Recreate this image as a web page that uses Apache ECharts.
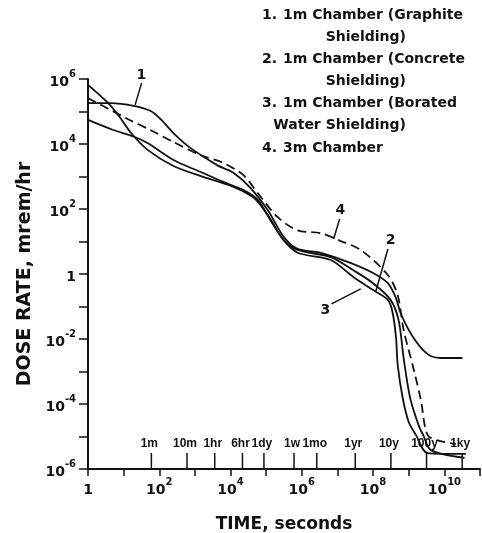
<!DOCTYPE html>
<html>
<head>
<meta charset="utf-8">
<script src="https://cdn.jsdelivr.net/npm/echarts@6/dist/echarts.min.js"></script>
<style>
  html, body { margin: 0; padding: 0; background: #fff; }
  #main { width: 482px; height: 533px; }
</style>
</head>
<body>
<div id="main"></div>
<script>
// curve 1: 1m chamber, graphite shielding
const graphiteTime = [1, 4.3, 19, 56, 107, 280, 740, 4300, 1.2e4, 3.6e4, 1.1e5, 3.1e5, 7.6e5, 3.4e6, 2.3e7, 1.0e8, 2.6e8, 4.3e8, 5.9e8, 9.3e8, 1.5e9, 2.5e9, 4.1e9, 7.8e9, 3.2e10]
const graphiteDose = [1.8e5, 1.8e5, 1.5e5, 1.05e5, 5.9e4, 1.9e4, 7.6e3, 2.2e3, 1.3e3, 450, 93, 14, 5.9, 4.5, 2.2, 1.07, 0.52, 0.19, 0.063, 0.022, 9.3e-3, 4.6e-3, 3.0e-3, 2.6e-3, 2.6e-3]
// curve 2: 1m chamber, concrete shielding
const concreteTime = [1, 3.7, 8.1, 15.5, 47, 250, 1400, 1.2e4, 4.5e4, 1.1e5, 3.1e5, 7.6e5, 6.5e6, 2.8e7, 1.0e8, 3.1e8, 5.2e8, 7.2e8, 1.1e9, 1.9e9, 2.6e9, 4.2e9, 3.7e10]
const concreteDose = [6.6e5, 1.8e5, 6.3e4, 2.3e4, 6.6e3, 2.1e3, 1.05e3, 480, 220, 66, 11, 5.5, 3.3, 1.3, 0.52, 0.16, 0.038, 2.6e-3, 1.5e-4, 2.2e-5, 1.05e-5, 3.8e-6, 2.2e-6]
// curve 3: 1m chamber, borated water shielding
const boratedTime = [1, 5.1, 19, 47, 250, 1400, 6300, 2.3e4, 5.8e4, 1.3e5, 3.1e5, 7.6e5, 6.5e6, 2.8e7, 1.0e8, 2.6e8, 3.5e8, 4.4e8, 4.9e8, 6.8e8, 1.0e9, 1.6e9, 3.4e9, 4.0e10]
const boratedDose = [5.5e4, 2.7e4, 1.7e4, 1.07e4, 3.2e3, 1.4e3, 680, 380, 190, 46, 11, 4.5, 2.7, 0.81, 0.32, 0.16, 0.068, 0.011, 1.6e-3, 1.5e-4, 2.8e-5, 1.1e-5, 3.1e-6, 2.9e-6]
// curve 4: 3m chamber
const bigTime = [1, 13, 56, 250, 1400, 6300, 2.3e4, 5.8e4, 2.1e5, 7.6e5, 3.4e6, 1.2e7, 4.5e7, 2.6e8, 4.9e8, 7.2e8, 1.4e9, 2.2e9, 3.4e9, 7.8e9, 2.1e10]
const bigDose = [2.6e5, 5.9e4, 2.7e4, 1.15e4, 4.6e3, 2.6e3, 1.1e3, 310, 56, 22, 18, 10.5, 5.5, 0.93, 0.22, 0.019, 1.1e-3, 1.3e-4, 1.1e-5, 7.2e-6, 5.9e-6]

// time markers along the bottom
const markerTimes = [60, 600, 3600, 21600, 86400, 604800, 2.63e6, 3.16e7, 3.16e8, 3.16e9, 3.16e10]
const markerLabels = ['1m', '10m', '1hr', '6hr', '1dy', '1w', '1mo', '1yr', '10y', '100y', '1ky']
const markerTop = 3.1e-6

// curve number callouts
const noteLabels = ['1', '2', '3', '4']
const noteTextAt = [[31.6, 1.3e6], [3.1e8, 11], [4.6e6, 0.078], [1.2e7, 93]]
const noteLineFrom = [[32, 7.6e5], [2.6e8, 5.9], [6.8e6, 0.12], [1.15e7, 49]]
const noteLineTo = [[21, 1.6e5], [1.2e8, 0.3], [4.5e7, 0.35], [7.8e6, 12]]

const legendLines = [
  ['1.', '1m Chamber (Graphite', 'Shielding)'],
  ['2.', '1m Chamber (Concrete', 'Shielding)'],
  ['3.', '1m Chamber (Borated', 'Water Shielding)'],
  ['4.', '3m Chamber', null],
]

const INK = '#111'
const FONT = '"DejaVu Sans", sans-serif'
const SANS = '"Liberation Sans", Arial, sans-serif'

function pairs(t, d) {
  return t.map((x, i) => [x, d[i]])
}

function powLabel(v) {
  const e = Math.round(Math.log10(v))
  if (e % 2 !== 0 || e > 10) return ''
  if (e === 0) return '{b|1}'
  return '{b|10}{sup|' + e + '}'
}

const labelRich = {
  b: { fontFamily: FONT, fontWeight: 'bold', fontSize: 14, color: INK, lineHeight: 20, verticalAlign: 'bottom' },
  sup: { fontFamily: FONT, fontWeight: 'bold', fontSize: 10, color: INK, lineHeight: 20, verticalAlign: 'top' },
}

function curve(name, t, d, dashed) {
  return {
    name: name,
    type: 'line',
    data: pairs(t, d),
    showSymbol: false,
    smooth: 0.3,
    silent: true,
    lineStyle: { color: INK, width: 1.8, type: dashed ? [9, 5] : 'solid' },
    z: 3,
  }
}

const graphics = []
legendLines.forEach((row, i) => {
  const y = 15 + i * 44.3
  graphics.push({ type: 'text', x: 262, y: y, style: { text: row[0], font: 'bold 14px ' + FONT, fill: INK, verticalAlign: 'middle' } })
  graphics.push({ type: 'text', x: 283, y: y, style: { text: row[1], font: 'bold 14px ' + FONT, fill: INK, verticalAlign: 'middle' } })
  if (row[2]) {
    graphics.push({ type: 'text', x: 406, y: y + 22, style: { text: row[2], font: 'bold 14px ' + FONT, fill: INK, align: 'right', verticalAlign: 'middle' } })
  }
})

const chart = echarts.init(document.getElementById('main'))
const option = {
  animation: false,
  backgroundColor: '#fff',
  grid: { left: 88, right: 2, top: 79, bottom: 64, containLabel: false, outerBoundsMode: 'none' },
  xAxis: {
    type: 'log',
    logBase: 10,
    min: 1,
    max: 1e11,
    interval: 1,
    name: 'TIME, seconds',
    nameLocation: 'middle',
    nameGap: 47,
    nameTextStyle: { fontFamily: FONT, fontWeight: 'bold', fontSize: 17, color: INK },
    axisLine: { lineStyle: { color: INK, width: 2 } },
    axisTick: { inside: false, length: 7, lineStyle: { color: INK, width: 1.5 } },
    axisLabel: { margin: 8, formatter: powLabel, rich: labelRich },
    splitLine: { show: false },
  },
  yAxis: {
    type: 'log',
    logBase: 10,
    min: 1e-6,
    max: 1e6,
    interval: 1,
    name: 'DOSE RATE, mrem/hr',
    nameLocation: 'middle',
    nameGap: 44,
    nameRotate: 90,
    nameTextStyle: { fontFamily: FONT, fontWeight: 'bold', fontSize: 19, color: INK },
    axisLine: { lineStyle: { color: INK, width: 2 } },
    axisTick: { inside: false, length: 9, lineStyle: { color: INK, width: 1.5 } },
    axisLabel: { margin: 12, formatter: powLabel, rich: labelRich },
    splitLine: { show: false },
  },
  graphic: graphics,
  series: [
    curve('1m Chamber (Graphite Shielding)', graphiteTime, graphiteDose, false),
    curve('1m Chamber (Concrete Shielding)', concreteTime, concreteDose, false),
    curve('1m Chamber (Borated Water Shielding)', boratedTime, boratedDose, false),
    curve('3m Chamber', bigTime, bigDose, true),
    {
      name: 'time markers',
      type: 'custom',
      silent: true,
      data: markerTimes.map(t => [t, markerTop]),
      renderItem(params, api) {
        const base = api.coord([api.value(0), 1e-6])
        const top = api.coord([api.value(0), api.value(1)])
        return {
          type: 'group',
          children: [
            { type: 'line', shape: { x1: base[0], y1: base[1], x2: top[0], y2: top[1] }, style: { stroke: INK, lineWidth: 1.5 } },
            { type: 'text', x: top[0] - 2, y: top[1] - 3, style: { text: markerLabels[params.dataIndex], font: 'bold 12px ' + SANS, fill: INK, align: 'center', verticalAlign: 'bottom' } },
          ],
        }
      },
    },
    {
      name: 'callouts',
      type: 'custom',
      silent: true,
      data: noteTextAt.map(p => p.slice()),
      renderItem(params, api) {
        const i = params.dataIndex
        const at = api.coord(noteTextAt[i])
        const a = api.coord(noteLineFrom[i])
        const b = api.coord(noteLineTo[i])
        return {
          type: 'group',
          children: [
            { type: 'line', shape: { x1: a[0], y1: a[1], x2: b[0], y2: b[1] }, style: { stroke: INK, lineWidth: 1.5 } },
            { type: 'text', x: at[0], y: at[1], style: { text: noteLabels[i], font: 'bold 14px ' + FONT, fill: INK, align: 'center', verticalAlign: 'middle' } },
          ],
        }
      },
    },
  ],
}
chart.setOption(option)
</script>
</body>
</html>
